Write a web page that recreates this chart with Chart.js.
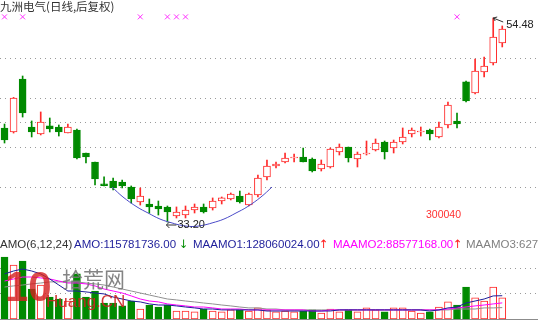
<!DOCTYPE html>
<html>
<head>
<meta charset="utf-8">
<script src="https://cdn.jsdelivr.net/npm/chart.js@4/dist/chart.umd.min.js"></script>
<style>
body { margin: 0; background: #fff; }
#wrap { position: relative; width: 538px; height: 321px; overflow: hidden; font-family: "Liberation Sans", Arial, sans-serif; }
#price { position: absolute; left: 0; top: 0; }
#vol { position: absolute; left: 0; top: 250px; }
.t { position: absolute; white-space: nowrap; line-height: 13px; }
</style>
</head>
<body>
<div id="wrap">
  <canvas id="price" width="538" height="235"></canvas>
  <canvas id="vol" width="538" height="71"></canvas>

  <div class="t" style="left:0;top:0;font-size:11.5px;color:#333;font-family:'Noto Sans CJK SC',sans-serif;">九洲电气(日线,后复权)</div>
  <div class="t" style="left:426px;top:208px;font-size:10.5px;color:#ff3030;">300040</div>

  <div class="t" style="left:0;top:238px;font-size:11.5px;color:#333;">AMO(6,12,24)</div>
  <div class="t" style="left:74px;top:238px;font-size:11.5px;color:#1e1e9a;">AMO:115781736.00</div>
  <div class="t" style="left:179px;top:238px;font-size:11.5px;color:#008c00;font-family:'DejaVu Sans';">↓</div>
  <div class="t" style="left:193px;top:238px;font-size:11.5px;color:#1e1e9a;">MAAMO1:128060024.00</div>
  <div class="t" style="left:319px;top:238px;font-size:11.5px;color:#ff2020;font-family:'DejaVu Sans';">↑</div>
  <div class="t" style="left:333px;top:238px;font-size:11.5px;color:#ff00ff;">MAAMO2:88577168.00</div>
  <div class="t" style="left:453px;top:238px;font-size:11.5px;color:#ff2020;font-family:'DejaVu Sans';">↑</div>
  <div class="t" style="left:466px;top:238px;font-size:11.5px;color:#808080;">MAAMO3:6276</div>

  <!-- watermark -->
  <div class="t" style="left:5px;top:264px;font-size:42px;line-height:46px;font-weight:bold;color:#d42020;opacity:0.8;">10</div>
  <div class="t" style="left:62px;top:266px;font-size:21px;line-height:24px;color:#777;font-family:'Noto Sans CJK SC',sans-serif;opacity:0.9;">拾荒网</div>
  <div class="t" style="left:46px;top:292px;font-size:17px;line-height:20px;color:#cc2222;opacity:0.9;">Huang.CN</div>
</div>

<script>
// daily candles (后复权)
const open  = [43.01,42.59,48.12,43.11,42.38,43.22,43.11,42.48,42.80,40.40,39.46,37.17,37.48,37.37,36.85,35.29,35.08,34.87,34.77,33.83,33.93,34.45,34.77,34.66,35.39,35.60,35.91,34.97,36.02,37.90,39.04,39.46,39.88,39.98,39.77,38.73,38.94,40.50,41.02,39.77,40.29,40.71,41.55,40.92,41.55,42.38,42.59,42.80,42.07,43.32,43.74,47.81,46.66,48.85,49.79,51.87];
const high  = [43.42,46.20,48.43,43.74,44.68,44.05,43.32,43.42,42.90,40.40,39.46,37.90,37.79,37.58,36.96,36.75,35.60,35.39,34.87,34.77,34.87,35.08,35.08,35.71,35.81,36.23,36.43,36.23,38.10,39.67,39.46,40.40,40.29,40.92,39.88,39.67,40.92,41.34,41.02,40.50,41.65,41.86,41.65,41.75,43.01,43.01,43.11,42.90,43.63,45.72,44.57,47.91,50.20,50.41,54.48,53.65];
const low   = [41.44,42.48,44.15,42.07,42.28,42.59,42.17,42.48,39.77,39.36,37.06,36.96,36.54,36.75,35.18,34.97,34.14,33.93,33.20,33.62,33.62,34.14,34.14,34.45,35.08,35.50,35.18,34.87,35.81,37.58,38.83,39.36,39.46,39.46,38.42,38.52,38.83,40.19,39.46,38.94,40.19,40.61,39.77,40.40,41.34,42.07,42.17,41.75,41.96,43.01,43.01,45.72,46.56,48.33,49.58,51.46];
const close = [41.75,46.14,44.57,42.59,43.63,42.90,42.59,43.11,39.88,39.98,37.69,37.00,36.75,36.96,35.60,35.91,34.77,34.56,34.24,34.24,34.45,34.77,34.24,35.39,35.71,36.12,35.29,36.12,37.79,39.04,39.25,39.88,39.98,39.46,38.52,39.25,40.82,41.02,39.88,40.29,40.40,41.44,40.50,41.55,42.07,42.80,42.69,42.38,43.11,45.41,43.42,45.82,48.95,49.47,52.50,53.33];

// turnover (AMO, millions) and its 6/12/24 day averages
const amo    = [341,297,319,165,187,121,110,99,248,121,154,88,88,72,99,55,77,66,77,44,44,39,55,44,39,50,50,44,61,50,39,44,39,44,50,33,55,39,50,39,61,50,39,61,61,44,33,39,66,94,77,176,116,99,176,115.78];
const maamo1 = [248,264,275,264,248,220,187,154,154,149,143,138,121,110,99,94,83,77,77,72,66,61,55,55,50,50,50,50,50,44,44,44,44,44,44,44,44,50,50,50,50,50,50,50,50,50,50,44,50,61,66,88,99,110,127,128.06];
const maamo2 = [209,220,231,231,226,220,209,198,198,193,182,165,154,143,127,110,99,94,83,77,72,66,66,61,55,55,55,50,50,50,50,50,50,50,44,44,50,50,50,50,50,50,50,50,50,50,50,50,50,55,61,66,72,77,83,88.58];
const maamo3 = [176,182,187,193,198,204,204,204,204,198,193,187,176,165,154,143,132,121,110,105,99,94,88,83,77,72,66,61,61,55,55,50,50,50,50,50,50,50,50,50,50,50,50,50,50,50,50,50,50,50,55,55,55,61,61,62.76];

// pink x markers along the top, and the hand drawn arc under the bottom
const markIdx = [0, 2, 15, 18, 19, 20, 50];
const markLevel = 54.6;
const arcX = [11.88,13.09,14.64,15.86,17.18,18.51,19.61,20.72,21.82,22.93,24.25,25.58,26.80,28.34,29.56];
const arcY = [36.85,35.81,34.77,34.14,33.51,33.10,32.84,32.73,32.84,33.10,33.51,34.14,34.77,35.81,36.85];

// dotted grid levels
const priceGrid = [50.31, 46.14, 43.63, 41.02, 36.85];
const volGrid = [145, 280];

const RED = '#ff2a2a';
const GREEN = '#008a00';
const idx = open.map((_, i) => i);
const isUp = i => close[i] >= open[i];

function dottedGrid(values) {
    return {
        id: 'dots',
        beforeDatasetsDraw(chart) {
            const { ctx, chartArea, scales: { y } } = chart;
            ctx.save();
            ctx.strokeStyle = '#9a9a9a';
            ctx.lineWidth = 1;
            ctx.setLineDash([1, 4]);
            values.forEach(v => {
                const py = Math.round(y.getPixelForValue(v)) + 0.5;
                ctx.beginPath();
                ctx.moveTo(chartArea.left, py);
                ctx.lineTo(chartArea.right, py);
                ctx.stroke();
            });
            ctx.restore();
        }
    };
}

// high / low labels with little arrows
const extremes = {
    id: 'extremes',
    afterDatasetsDraw(chart) {
        const { ctx, scales: { x, y } } = chart;
        const hi = high.indexOf(Math.max(...high));
        const lo = low.indexOf(Math.min(...low));
        ctx.save();
        ctx.strokeStyle = '#333';
        ctx.fillStyle = '#222';
        ctx.lineWidth = 1;
        ctx.font = '11px "Liberation Sans", Arial, sans-serif';
        ctx.textBaseline = 'middle';

        let px = x.getPixelForValue(hi), py = y.getPixelForValue(high[hi]);
        ctx.beginPath();
        ctx.moveTo(px + 10, py + 4);
        ctx.lineTo(px, py);
        ctx.moveTo(px, py);
        ctx.lineTo(px + 4, py - 1);
        ctx.moveTo(px, py);
        ctx.lineTo(px + 2, py + 3);
        ctx.stroke();
        ctx.fillText(high[hi].toFixed(2), px + 13, py + 7);

        px = x.getPixelForValue(lo);
        py = y.getPixelForValue(low[lo]) + 3;
        ctx.beginPath();
        ctx.moveTo(px - 1, py);
        ctx.lineTo(px + 9, py);
        ctx.moveTo(px - 1, py);
        ctx.lineTo(px + 2, py - 3);
        ctx.moveTo(px - 1, py);
        ctx.lineTo(px + 2, py + 3);
        ctx.stroke();
        ctx.fillText(low[lo].toFixed(2), px + 10, py);
        ctx.restore();
    }
};

const baseLine = {
    id: 'baseLine',
    afterDatasetsDraw(chart) {
        const { ctx, chartArea, scales: { y } } = chart;
        const py = Math.round(y.getPixelForValue(0)) + 0.5;
        ctx.save();
        ctx.strokeStyle = '#8c8c8c';
        ctx.beginPath();
        ctx.moveTo(chartArea.left, py);
        ctx.lineTo(chartArea.right, py);
        ctx.stroke();
        ctx.restore();
    }
};

const xScale = { type: 'linear', min: -0.5, max: 58.95, offset: false, display: false };
const common = {
    responsive: false,
    animation: false,
    devicePixelRatio: 1,
    layout: { autoPadding: false, padding: 0 },
    plugins: { legend: { display: false }, tooltip: { enabled: false } }
};

new Chart(document.getElementById('price'), {
    type: 'bar',
    data: {
        datasets: [
            {
                type: 'scatter',
                data: markIdx.map(i => ({ x: i, y: markLevel })),
                pointStyle: 'crossRot',
                radius: 3.5,
                borderColor: '#ff30ff',
                borderWidth: 1,
                clip: false
            },
            {
                type: 'line',
                data: arcX.map((v, k) => ({ x: v, y: arcY[k] })),
                borderColor: '#4b4bc8',
                borderWidth: 1,
                pointRadius: 0,
                tension: 0.4,
                fill: false
            },
            {
                type: 'bar',
                data: idx.map(i => ({ x: i, y: [open[i], close[i]] })),
                grouped: false,
                barPercentage: 1,
                categoryPercentage: 1,
                maxBarThickness: 7,
                borderWidth: 1,
                borderSkipped: false,
                backgroundColor: c => isUp(c.dataIndex) ? '#ffffff' : GREEN,
                borderColor: c => isUp(c.dataIndex) ? RED : GREEN
            },
            {
                type: 'bar',
                data: idx.map(i => ({ x: i, y: [low[i], high[i]] })),
                grouped: false,
                barPercentage: 1,
                categoryPercentage: 1,
                maxBarThickness: 1,
                borderWidth: 0,
                backgroundColor: c => isUp(c.dataIndex) ? RED : GREEN
            }
        ]
    },
    options: {
        ...common,
        scales: {
            x: xScale,
            y: { type: 'linear', min: 31.845, max: 56.358, display: false }
        }
    },
    plugins: [dottedGrid(priceGrid), extremes]
});

new Chart(document.getElementById('vol'), {
    type: 'bar',
    data: {
        datasets: [
            {
                type: 'line',
                data: idx.map(i => ({ x: i, y: maamo1[i] })),
                borderColor: '#1e1e9a', borderWidth: 1, pointRadius: 0
            },
            {
                type: 'line',
                data: idx.map(i => ({ x: i, y: maamo2[i] })),
                borderColor: '#ff00ff', borderWidth: 1, pointRadius: 0
            },
            {
                type: 'line',
                data: idx.map(i => ({ x: i, y: maamo3[i] })),
                borderColor: '#909090', borderWidth: 1, pointRadius: 0
            },
            {
                type: 'bar',
                data: idx.map(i => ({ x: i, y: amo[i] })),
                grouped: false,
                barPercentage: 1,
                categoryPercentage: 1,
                maxBarThickness: 7,
                borderWidth: 1,
                borderSkipped: false,
                backgroundColor: c => isUp(c.dataIndex) ? '#ffffff' : GREEN,
                borderColor: c => isUp(c.dataIndex) ? RED : GREEN
            }
        ]
    },
    options: {
        ...common,
        scales: {
            x: xScale,
            y: { type: 'linear', min: -11, max: 379.5, display: false }
        }
    },
    plugins: [dottedGrid(volGrid), baseLine]
});
</script>
</body>
</html>
